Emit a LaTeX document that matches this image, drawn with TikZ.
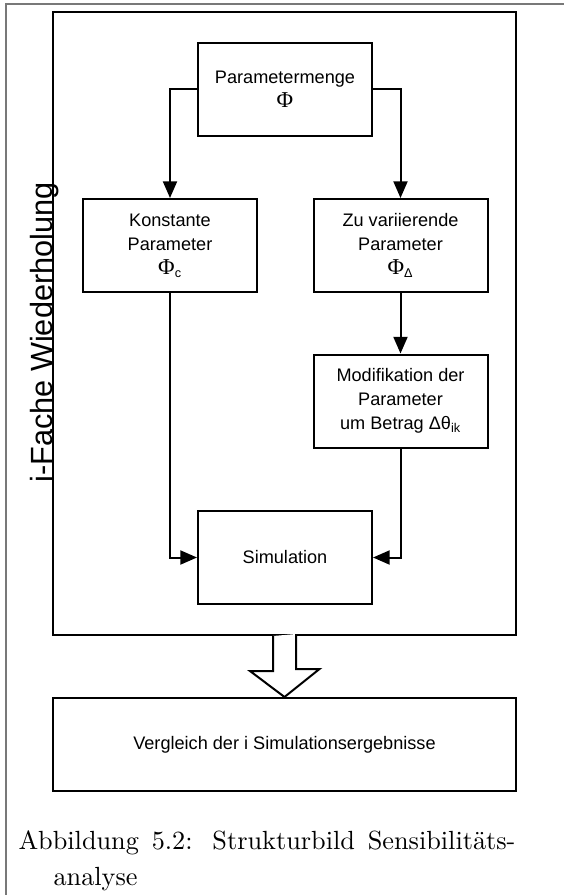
\documentclass[tikz,border=0pt]{standalone}
\usepackage{fontspec}
\usepackage{tikz}
\usetikzlibrary{arrows.meta,calc}
\newfontfamily\arialfont{Liberation Sans}
\newfontfamily\grfont{Liberation Serif}
\definecolor{rahmengrau}{RGB}{120,120,120}
\newcommand{\grphi}{{\grfont\fontsize{17pt}{18pt}\selectfont Φ}}

\begin{document}
\begin{tikzpicture}[x=0.75pt,y=-0.75pt,
  kasten/.style={draw,line width=1.5pt,minimum width=130.5pt,minimum height=69.75pt,align=center,font=\arialfont\fontsize{13.6pt}{18pt}\selectfont},
  pfeil/.style={line width=1.5pt,-{Triangle[length=12.5pt,width=10.5pt]}},
  unterschrift/.style={anchor=base west,inner sep=0pt,scale=1.97,transform shape,font=\fontsize{10pt}{12pt}\selectfont}]
\useasboundingbox (0,0) rectangle (564,895);
\draw[rahmengrau,line width=0.8pt] (6,895) |- (564,4);

\node [draw,line width=1.5pt,minimum width=347.25pt,minimum height=467.25pt] (wdh) at (284.5,323.5) {};
\node [rotate=90,anchor=base,font=\arialfont\fontsize{23pt}{27pt}\selectfont] (wdhtext) at (52,332.5) {i-Fache Wiederholung};

\node [kasten] (par) at (285,89.5) {Parametermenge\\\grphi};
\node [kasten] (konst) at (170,245.5) {Konstante\\Parameter\\\grphi\textsubscript{c}};
\node [kasten] (zu) at (400.5,245.5) {Zu variierende\\Parameter\\\grphi\textsubscript{Δ}};
\node [kasten] (mod) at (400.5,401) {Modifikation der\\Parameter\\um Betrag Δθ\textsubscript{ik}};
\node [kasten] (sim) at (285,557.5) {Simulation};
\node [kasten,minimum width=347.25pt] (vgl) at (284.5,744.5) {Vergleich der i Simulationsergebnisse};

\draw[pfeil] (par.west) -| (konst.north);
\draw[pfeil] (par.east) -| (zu.north);
\draw[pfeil] (zu) -- (mod);
\draw[pfeil] (konst.south) |- (sim.west);
\draw[pfeil] (mod.south) |- (sim.east);

% Blockpfeil
\draw[line width=1.5pt,fill=white] ($(wdh.south)+(-11.5,0)$) -- ++(0,35) -- ++(-23,0) -- (vgl.north)
  -- ++(35,-28) -- ++(-23.5,0) -- ++(0,-35);

\node [unterschrift] (cap1) at (18,849)
  {\makebox[189.2pt][s]{Abbildung 5.2: Strukturbild Sensibilitäts-}};
\node [unterschrift] (cap2) at (53,885) {analyse};
\end{tikzpicture}
\end{document}
